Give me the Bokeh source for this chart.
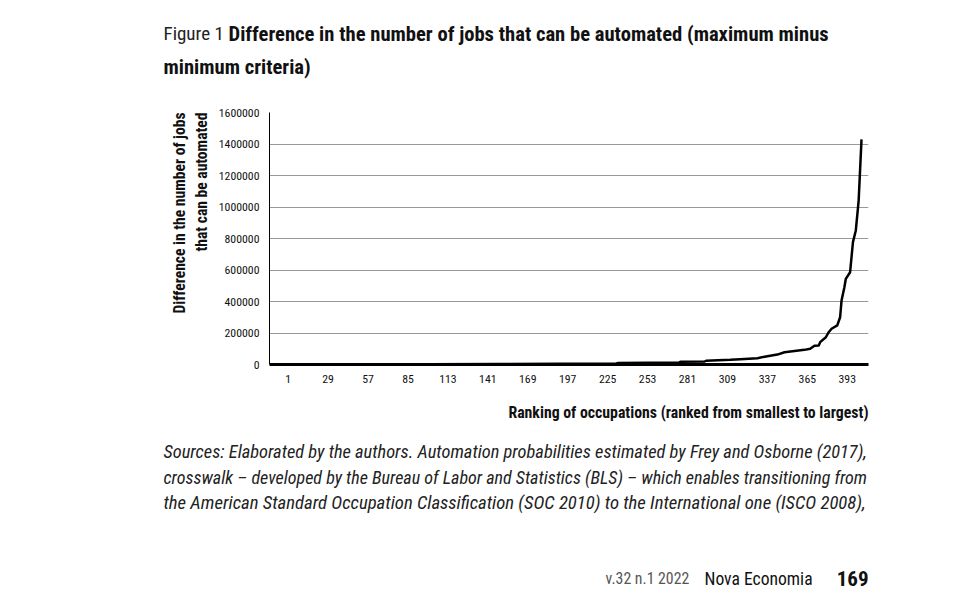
from math import pi

from bokeh.embed import file_html
from bokeh.layouts import column, row
from bokeh.models import FixedTicker, Label, Range1d
from bokeh.plotting import figure
from bokeh.resources import INLINE

# Occupations ranked from smallest to largest difference (breakpoints of the curve)
ranks = [1, 100, 150, 192, 231, 232, 275, 276, 293, 294, 311, 318, 330, 337,
         344, 349, 356, 363, 367, 370, 373, 374, 378, 380, 382, 386, 388, 389,
         391, 392, 395, 397, 399, 401, 403]
jobs_diff = [0, 1000, 2500, 4000, 6000, 9000, 12000, 17000, 19000, 24000, 30000,
             34000, 40000, 53000, 63000, 78000, 85000, 93000, 100000, 119000,
             121000, 142000, 173000, 205000, 227000, 248000, 300000, 406000,
             491000, 544000, 586000, 777000, 851000, 1041000, 1429000]

x_ticks = [1, 29, 57, 85, 113, 141, 169, 197, 225, 253, 281, 309, 337, 365, 393]
y_ticks = [0, 200000, 400000, 600000, 800000, 1000000, 1200000, 1400000, 1600000]

FONT = "Roboto Condensed, DejaVu Sans Condensed, sans-serif"
W = 977
HEAD_H, BODY_H, FOOT_H = 100, 295, 215
LEFT_W = 215


def text_panel(w, h):
    """A blank figure whose data units are pixels, used for page text."""
    f = figure(width=w, height=h, output_backend="svg", toolbar_location=None,
               x_range=Range1d(0, w), y_range=Range1d(0, h),
               x_axis_location=None, y_axis_location=None,
               min_border=0, outline_line_color=None)
    f.grid.visible = False
    f.background_fill_color = "white"
    f.border_fill_color = "white"
    return f


def put(f, text, x, y, size, style="normal", color="#111111", align="left",
        angle=0.0, baseline="middle"):
    # y is measured downward from the panel's top edge
    f.add_layout(Label(x=x, y=f.height - y, text=text, text_font=FONT,
                       text_font_size=size, text_font_style=style,
                       text_color=color, text_align=align,
                       text_baseline=baseline, angle=angle))


# ---- heading ----
head = text_panel(W, HEAD_H)
put(head, "Figure 1", 163, 33, "19px", color="#222222")
put(head, "Difference in the number of jobs that can be automated (maximum minus",
    228, 33, "20.6px", style="bold")
put(head, "minimum criteria)", 163, 66, "20.6px", style="bold")

# ---- y-axis title panel ----
left = text_panel(LEFT_W, BODY_H)
put(left, "Difference in the number of jobs", 179, 0, "15.6px", style="bold",
    align="right", angle=pi / 2)
put(left, "that can be automated", 201, 0, "15.6px", style="bold",
    align="right", angle=pi / 2)

# ---- chart ----
p = figure(width=W - LEFT_W, height=BODY_H, output_backend="svg",
           toolbar_location=None,
           x_range=Range1d(-12.1, 407.9), y_range=Range1d(0, 1600000),
           min_border_left=53, min_border_right=109,
           min_border_top=12, min_border_bottom=31)
p.outline_line_color = None
p.background_fill_color = "white"
p.border_fill_color = "white"

p.line(ranks, jobs_diff, line_color="black", line_width=2.5, line_join="round")

p.xaxis.ticker = FixedTicker(ticks=x_ticks)
p.yaxis.ticker = FixedTicker(ticks=y_ticks)
p.yaxis.formatter.use_scientific = False
for ax in (p.xaxis[0], p.yaxis[0]):
    ax.major_label_text_font = FONT
    ax.major_label_text_font_size = "11.8px"
    ax.major_label_text_color = "#111111"
    ax.major_tick_line_color = None
    ax.major_tick_out = 0
    ax.major_tick_in = 0
    ax.minor_tick_line_color = None
    ax.minor_tick_out = 0
p.xaxis.axis_line_width = 3
p.xaxis.axis_line_color = "black"
p.xaxis.major_label_standoff = 10
p.yaxis.axis_line_width = 1
p.yaxis.axis_line_color = "black"
p.yaxis.major_label_standoff = 10

p.xgrid.grid_line_color = None
p.ygrid.grid_line_color = "#999999"
p.ygrid.grid_line_width = 1

# ---- x-axis title, sources and running footer ----
foot = text_panel(W, FOOT_H)
top = HEAD_H + BODY_H
put(foot, "Ranking of occupations (ranked from smallest to largest)", 868, 412 - top,
    "15.8px", style="bold", align="right")

notes = [
    "Sources: Elaborated by the authors. Automation probabilities estimated by Frey and Osborne (2017),",
    "crosswalk \u2013 developed by the Bureau of Labor and Statistics (BLS) \u2013 which enables transitioning from",
    "the American Standard Occupation Classification (SOC 2010) to the International one (ISCO 2008),",
]
note_sizes = ["18.4px", "18.05px", "18.7px"]
for i, (line, size) in enumerate(zip(notes, note_sizes)):
    put(foot, line, 163, 451 - top + i * 25.5, size, style="italic",
        color="#222222")

put(foot, "v.32  n.1  2022", 605, 578 - top, "15.8px", color="#555555")
put(foot, "Nova Economia", 704, 578 - top, "17.6px", color="#111111")
put(foot, "169", 868, 578 - top, "21px", style="bold", color="#111111", align="right")

page = column(head, row(left, p), foot)
open("out.html", "w").write(file_html(page, INLINE))
